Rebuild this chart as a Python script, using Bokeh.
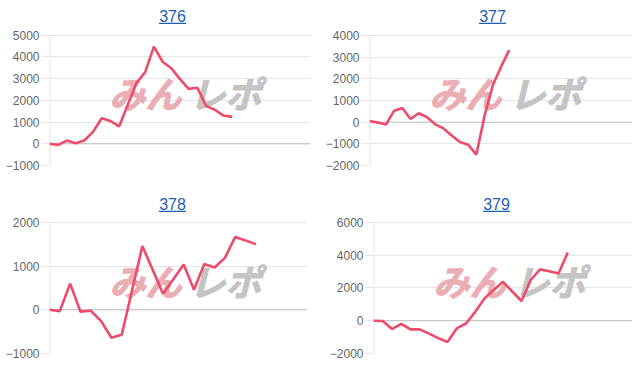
from bokeh.plotting import figure
from bokeh.layouts import row, column
from bokeh.models import Range1d, Span, Label, BoxAnnotation, FixedTicker
from bokeh.embed import file_html
from bokeh.resources import INLINE

# ---- data ----
titles = ["376", "377", "378", "379"]
n_labels = [31, 33, 26, 29]          # number of x categories on each chart

values_376 = [0, -50, 150, 30, 150, 550, 1180, 1050, 800, 1800, 2800, 3300, 4480,
              3780, 3480, 2980, 2530, 2580, 1750, 1570, 1300, 1240]
values_377 = [50, -20, -110, 530, 650, 150, 410, 225, -100, -290, -620, -920, -1040,
              -1500, 300, 1700, 2550, 3330]
values_378 = [0, -30, 600, -40, -20, -260, -640, -570, 445, 1460, 915, 370, 700,
              1040, 460, 1050, 970, 1190, 1670, 1590, 1500]
values_379 = [0, -20, -510, -200, -530, -530, -790, -1060, -1300, -470, -170, 540,
              1360, 1870, 2370, 1780, 1200, 2480, 3130, 3020, 2880, 4150]
series = [values_376, values_377, values_378, values_379]

y_min = [-1000, -2000, -1000, -2000]
y_max = [5000, 4000, 2000, 6000]
y_step = [1000, 1000, 1000, 2000]

# ---- styling / layout ----
W, H = 316, 183
# (left border, right border, space above top gridline, bottom border)
borders = [(49, 6, 35, 17), (53, 0, 35, 18), (49, 9, 39, 13), (57, 0, 39, 12)]
LINE = "#ee4b6b"
GRID = "#e6e6e6"
ZERO = "#bfbfbf"
LINK = "#1f5cb8"
FONT = "Liberation Sans"


def make_panel(title, n, vals, lo, hi, step, border):
    left, right, top, bottom = border
    plot_h = H - top - bottom
    y_top = hi + top * (hi - lo) / plot_h   # frame reaches the canvas top; title sits inside
    p = figure(width=W, height=H, output_backend="svg", toolbar_location=None,
               title=None, x_range=Range1d(0, n - 1), y_range=Range1d(lo, y_top),
               min_border_left=left, min_border_right=right,
               min_border_top=0, min_border_bottom=bottom)
    p.outline_line_color = None
    p.background_fill_color = "white"
    p.border_fill_color = "white"
    p.xaxis.visible = False
    p.xgrid.visible = False
    p.ygrid.grid_line_color = GRID
    p.yaxis.ticker = FixedTicker(ticks=list(range(lo, hi + 1, step)))
    p.yaxis.axis_line_color = None
    p.yaxis.major_tick_line_color = GRID
    p.yaxis.major_tick_out = 8
    p.yaxis.major_tick_in = 0
    p.yaxis.minor_tick_line_color = None
    p.yaxis.major_label_standoff = 2
    p.yaxis.major_label_text_font = FONT
    p.yaxis.major_label_text_font_size = "12px"
    p.yaxis.major_label_text_color = "#666666"

    p.add_layout(Span(location=0, dimension="width", line_color=ZERO,
                      line_width=1, level="underlay"))

    # watermark logo (as text)
    p.add_layout(Label(x=60, y=74, x_units="screen", y_units="screen", text="みん",
                       text_font="Noto Sans CJK JP", text_font_size="36px",
                       text_font_style="bold italic", text_color="#eaaeb4",
                       text_outline_color="#eaaeb4",
                       text_baseline="middle", text_align="left", level="underlay"))
    p.add_layout(Label(x=140, y=74, x_units="screen", y_units="screen", text="レポ",
                       text_font="Noto Sans CJK JP", text_font_size="36px",
                       text_font_style="bold italic", text_color="#c4c4c4",
                       text_outline_color="#c4c4c4",
                       text_baseline="middle", text_align="left", level="underlay"))

    # vertical axis line, from bottom gridline to top gridline
    p.segment(x0=[0], y0=[lo], x1=[0], y1=[hi], line_color=GRID, line_width=2)

    xs = list(range(len(vals)))
    p.line(xs, vals, line_color=LINE, line_width=2.6)

    # title as link-like text with underline
    cx, cy = 123, 149.5
    p.add_layout(Label(x=cx, y=cy, x_units="screen", y_units="screen", text=title,
                       text_font=FONT, text_font_size="16px", text_color=LINK,
                       text_align="center", text_baseline="middle"))
    p.add_layout(BoxAnnotation(left=cx - 13.5, right=cx + 13.5, bottom=141.6, top=142.7,
                               left_units="screen", right_units="screen",
                               top_units="screen", bottom_units="screen",
                               fill_color=LINK, fill_alpha=1.0, line_color=None))
    return p


panels = [make_panel(titles[i], n_labels[i], series[i], y_min[i], y_max[i], y_step[i], borders[i])
          for i in range(4)]

layout = column(row(panels[0], panels[1]), row(panels[2], panels[3]))
open("out.html", "w").write(file_html(layout, INLINE))
